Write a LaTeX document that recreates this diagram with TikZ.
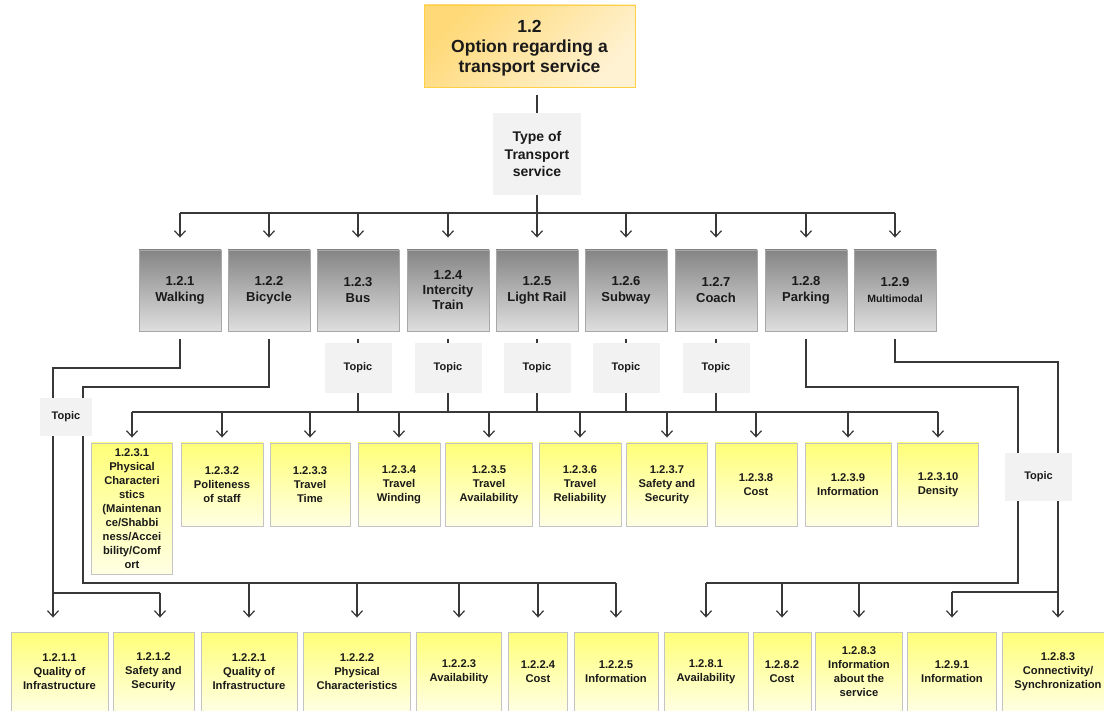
\documentclass[tikz,border=0pt]{standalone}
\usepackage{fontspec}
\setmainfont{Liberation Sans}
\usetikzlibrary{arrows.meta}
\definecolor{ln}{HTML}{383838}
\definecolor{txt}{HTML}{1A1A1A}
\definecolor{gtop}{HTML}{858585}
\definecolor{gbot}{HTML}{DEDEDE}
\definecolor{gbd}{HTML}{A8A8A8}
\definecolor{ytop}{HTML}{FFFF78}
\definecolor{ybot}{HTML}{FFFFE4}
\definecolor{ybd}{HTML}{C4C4C4}
\definecolor{tpc}{HTML}{F2F2F2}
\definecolor{htop}{HTML}{FFD977}
\definecolor{hbot}{HTML}{FFF2D2}
\definecolor{hbd}{HTML}{FFCF45}
\begin{document}
\begin{tikzpicture}[x=1pt,y=-1pt,
  conn/.style={draw=ln, line width=1.2pt},
  arr/.style={conn, -{Straight Barb[length=6pt,width=11pt]}},
  base/.style={inner sep=0pt, align=center, text=txt},
  gbox/.style={base, draw=gbd, line width=0.9pt, top color=gtop, bottom color=gbot,
    minimum width=82pt, minimum height=81pt, font=\fontsize{13}{16}\selectfont\bfseries},
  ybox/.style={base, draw=ybd, line width=0.9pt, top color=ytop, bottom color=ybot,
    minimum height=83pt, font=\fontsize{11.2}{14}\selectfont\bfseries},
  bbox/.style={base, draw=ybd, line width=0.9pt, top color=ytop, bottom color=ybot,
    minimum height=80pt, font=\fontsize{11.2}{14}\selectfont\bfseries},
  tpbox/.style={base, fill=tpc, font=\fontsize{11}{14}\selectfont\bfseries},
]
\path[fill=white, use as bounding box] (0,0) rectangle (1104,711);
\clip (0,0) rectangle (1104,711);

% header
\node[base, draw=hbd, line width=0.9pt, top color=htop, bottom color=hbot, shading angle=45,
  minimum width=211pt, minimum height=82pt, font=\fontsize{17.5}{20}\selectfont\bfseries]
  (top) at (529.5,46) {\rule{0pt}{16pt}1.2\\Option regarding a\\transport service};
\node[tpbox, minimum width=88pt, minimum height=82pt, font=\fontsize{14}{17.5}\selectfont\bfseries]
  (typ) at (537,154) {Type of\\Transport\\service};

% modes
\node[gbox] (g1) at (180,290.5) {1.2.1\\Walking};
\node[gbox] (g2) at (269,290.5) {1.2.2\\Bicycle};
\node[gbox] (g3) at (358,290.5) {1.2.3\\Bus};
\node[gbox, font=\fontsize{13}{15}\selectfont\bfseries] (g4) at (448,290.5) {1.2.4\\Intercity\\Train};
\node[gbox] (g5) at (537,290.5) {1.2.5\\Light Rail};
\node[gbox] (g6) at (626,290.5) {1.2.6\\Subway};
\node[gbox] (g7) at (716,290.5) {1.2.7\\Coach};
\node[gbox] (g8) at (806,290.5) {1.2.8\\Parking};
\node[gbox] (g9) at (895,290.5) {1.2.9\\\fontsize{10.5}{14}\selectfont Multimodal};

% topics for 1.2.3 - 1.2.7
\node[tpbox, minimum width=67pt, minimum height=50pt] (t3) at (358,368) {Topic};
\node[tpbox, minimum width=67pt, minimum height=50pt] (t4) at (448,368) {Topic};
\node[tpbox, minimum width=67pt, minimum height=50pt] (t5) at (537,368) {Topic};
\node[tpbox, minimum width=67pt, minimum height=50pt] (t6) at (626,368) {Topic};
\node[tpbox, minimum width=67pt, minimum height=50pt] (t7) at (716,368) {Topic};

% second level yellow row
\node[ybox, minimum width=81pt, minimum height=131pt] (a1) at (132,508.5)
  {1.2.3.1\\Physical\\Characteri\\stics\\(Maintenan\\ce/Shabbi\\ness/Accei\\bility/Comf\\ort};
\node[ybox, minimum width=82pt] (a2) at (222,484.5) {1.2.3.2\\Politeness\\of staff};
\node[ybox, minimum width=80pt] (a3) at (310,484.5) {1.2.3.3\\Travel\\Time};
\node[ybox, minimum width=82pt] (a4) at (399,484.5) {1.2.3.4\\Travel\\Winding};
\node[ybox, minimum width=87pt] (a5) at (489,484.5) {1.2.3.5\\Travel\\Availability};
\node[ybox, minimum width=82pt] (a6) at (580,484.5) {1.2.3.6\\Travel\\Reliability};
\node[ybox, minimum width=81pt] (a7) at (667,484.5) {1.2.3.7\\Safety and\\Security};
\node[ybox, minimum width=82pt] (a8) at (756,484.5) {1.2.3.8\\Cost};
\node[ybox, minimum width=86pt] (a9) at (848,484.5) {1.2.3.9\\Information};
\node[ybox, minimum width=81pt] (a10) at (938,484.5) {1.2.3.10\\Density};

% bottom row
\node[bbox, minimum width=97pt] (b1) at (59.5,672) {1.2.1.1\\Quality of\\Infrastructure};
\node[bbox, minimum width=81pt] (b2) at (153.5,672) {1.2.1.2\\Safety and\\Security};
\node[bbox, minimum width=96pt] (b3) at (249,672) {1.2.2.1\\Quality of\\Infrastructure};
\node[bbox, minimum width=107pt] (b4) at (357,672) {1.2.2.2\\Physical\\Characteristics};
\node[bbox, minimum width=85pt] (b5) at (459,672) {1.2.2.3\\Availability};
\node[bbox, minimum width=59pt] (b6) at (538,672) {1.2.2.4\\Cost};
\node[bbox, minimum width=84pt] (b7) at (616,672) {1.2.2.5\\Information};
\node[bbox, minimum width=84pt] (b8) at (706,672) {1.2.8.1\\Availability};
\node[bbox, minimum width=58pt] (b9) at (782,672) {1.2.8.2\\Cost};
\node[bbox, minimum width=87pt] (b10) at (859,672) {1.2.8.3\\Information\\about the\\service};
\node[bbox, minimum width=89pt] (b11) at (952,672) {1.2.9.1\\Information};
\node[bbox, minimum width=112pt] (b12) at (1058,672) {1.2.8.3\\Connectivity/\\Synchronization};

% bar coordinates
\coordinate (tb) at (0,213);
\coordinate (rb) at (0,412);

% header to type of transport service
\draw[conn, shorten <=8pt] (top.south -| typ.north) -- (typ.north);
\draw[conn] (typ.south) -- (typ.south |- tb);
\draw[conn] (g1.north |- tb) -- (g9.north |- tb);
\foreach \g in {g1,g2,g3,g4,g5,g6,g7,g8,g9}
  \draw[arr] (\g.north |- tb) -- ([yshift=12pt]\g.north);

% modes to topics
\foreach \n in {3,4,5,6,7}{
  \draw[conn, shorten <=8pt] (g\n.south) -- (t\n.north);
  \draw[conn] (t\n.south) -- (t\n.south |- rb);
}
\draw[conn] (a1.north |- rb) -- (a10.north |- rb);
\foreach \a in {a1,a2,a3,a4,a5,a6,a7,a8,a9,a10}
  \draw[arr] (\a.north |- rb) -- ([yshift=5pt]\a.north);

% walking
\coordinate (wA) at (53,368);
\coordinate (wB) at (53,593);
\coordinate (wC) at (160,593);
\draw[conn, shorten <=8pt] (g1.south) |- (wA) -- (wB) -- (wC);
\draw[arr, shorten >=14pt] (wB) -- (wB |- b1.north);
\draw[arr, shorten >=14pt] (wC) -- (wC |- b2.north);

% bicycle
\coordinate (cA) at (83,387);
\coordinate (cB) at (83,583);
\draw[conn, shorten <=8pt] (g2.south) |- (cA) -- (cB) -- (cB -| b7.north);
\foreach \b in {b3,b4,b5,b6,b7}
  \draw[arr] (\b.north |- cB) -- ([yshift=14pt]\b.north);

% parking
\coordinate (pA) at (1018,387);
\coordinate (pB) at (1018,583);
\draw[conn, shorten <=8pt] (g8.south) |- (pA) -- (pB) -- (pB -| b8.north);
\foreach \b in {b8,b9,b10}
  \draw[arr] (\b.north |- pB) -- ([yshift=14pt]\b.north);

% multimodal
\coordinate (mA) at (1058,362);
\coordinate (mB) at (1058,592);
\draw[conn, shorten <=8pt] (g9.south) |- (mA) -- (mB) -- (mB -| b11.north);
\draw[arr] (b11.north |- mB) -- ([yshift=14pt]b11.north);
\draw[arr, shorten >=14pt] (mB) -- (mB |- b12.north);

% topic boxes drawn over the lines
\node[tpbox, minimum width=52pt, minimum height=38pt] (tl) at (66,417) {Topic};
\node[tpbox, minimum width=67pt, minimum height=48pt] (tr) at (1038.5,477) {Topic};
\end{tikzpicture}
\end{document}
